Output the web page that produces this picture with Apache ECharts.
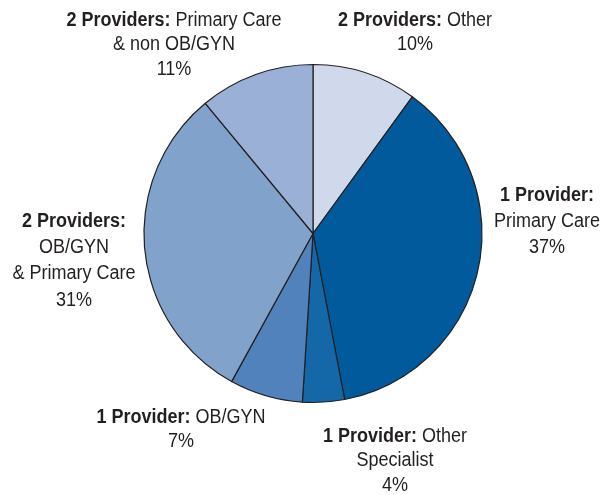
<!DOCTYPE html>
<html><head><meta charset="utf-8">
<script src="https://cdn.jsdelivr.net/npm/echarts@6/dist/echarts.min.js"></script>
<style>html,body{margin:0;padding:0;background:#fff}#c{width:603px;height:495px}</style>
</head><body><div id="c"></div>
<script>
const boldParts = ['2 Providers:', '1 Provider:', '1 Provider:', '1 Provider:', '2 Providers:', '2 Providers:'];
const restParts = [' Other', '\nPrimary Care', ' Other\nSpecialist', ' OB/GYN', '\nOB/GYN\n& Primary Care', ' Primary Care\n& non OB/GYN'];
const values = [10, 37, 4, 7, 31, 11];
const colors = ['#d0d9ec', '#005a9c', '#1568a8', '#5282bb', '#80a2cb', '#9bb0d6'];

// label layout (centre of each text block, line spacing)
const labelCenters = [[415, 32.4], [547, 221.4], [395, 460.7], [181, 429.4], [74, 260.9], [174, 44.8]];
const labelLineHeights = [24.5, 26.3, 24.3, 24, 26.1, 24.7];
const FONT = '"Liberation Sans", Arial, sans-serif';

function labelText(i) {
  const lines = (boldParts[i] + restParts[i]).split('\n');
  const b = boldParts[i];
  const first = lines[0];
  const out = ['{b|' + b + '}' + (first.length > b.length ? '{n|' + first.slice(b.length) + '}' : '')];
  for (let k = 1; k < lines.length; k++) out.push('{n|' + lines[k] + '}');
  out.push('{n|' + values[i] + '%}');
  return out.join('\n');
}

function richFor(lh) {
  return {
    b: { fontFamily: FONT, fontSize: 20, fontWeight: 'bold', fill: '#231f20', lineHeight: lh },
    n: { fontFamily: FONT, fontSize: 20, fill: '#231f20', lineHeight: lh }
  };
}

const chart = echarts.init(document.getElementById('c'), null, { renderer: 'canvas' });
chart.setOption({
  animation: false,
  graphic: values.map((v, i) => ({
    type: 'text',
    x: labelCenters[i][0],
    y: labelCenters[i][1],
    scaleX: 0.9,
    style: {
      text: labelText(i),
      rich: richFor(labelLineHeights[i]),
      align: 'center',
      verticalAlign: 'middle',
      fill: '#231f20'
    }
  })),
  series: [{
    type: 'pie',
    center: [313, 233.5],
    radius: [0, 169],
    startAngle: 90,
    clockwise: true,
    data: values.map((v, i) => ({ value: v, name: boldParts[i] + restParts[i].replace(/\n/g, ' '), itemStyle: { color: colors[i] } })),
    itemStyle: { borderColor: '#231f20', borderWidth: 1.2 },
    emphasis: { disabled: true },
    label: { show: false },
    labelLine: { show: false }
  }]
});
</script></body></html>
